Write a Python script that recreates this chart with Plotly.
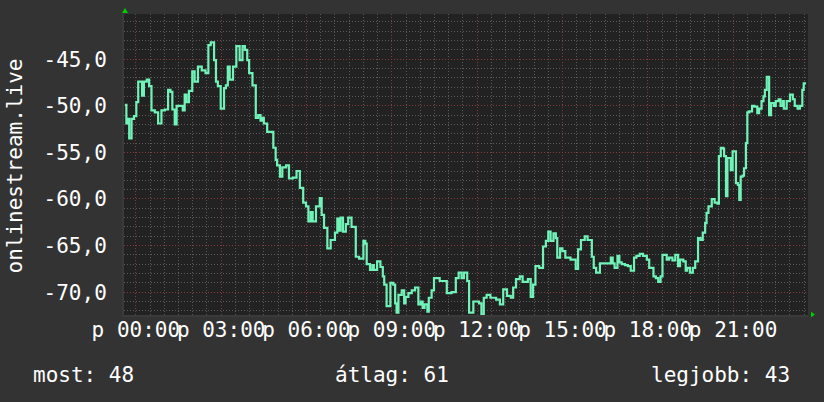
import plotly.graph_objects as go

# time of each sample, minutes relative to 00:00 (negative = previous evening)
minutes = [
    -23, -20, -18, -14, -9, -4, 1, 5, 8, 13,
    17, 23, 28, 33, 40, 47, 51, 54, 61, 68,
    73, 77, 82, 86, 93, 99, 103, 107, 112, 119,
    124, 131, 139, 147, 153, 158, 165, 169, 173, 179,
    186, 190, 194, 198, 205, 212, 219, 225, 230, 235,
    239, 246, 253, 258, 263, 267, 270, 277, 286, 290,
    295, 298, 304, 309, 317, 323, 331, 339, 346, 353,
    359, 364, 369, 373, 380, 388, 392, 397, 404, 411,
    420, 425, 429, 432, 437, 443, 448, 455, 464, 471,
    480, 484, 487, 494, 499, 502, 509, 516, 521, 524,
    529, 533, 537, 543, 547, 550, 554, 561, 566, 569,
    575, 582, 589, 596, 601, 605, 609, 615, 618, 624,
    629, 641, 656, 666, 675, 681, 687, 692, 699, 703,
    706, 712, 719, 724, 729, 734, 740, 748, 760, 768,
    775, 783, 791, 796, 802, 810, 816, 821, 827, 833,
    838, 843, 851, 859, 865, 870, 875, 881, 886, 889,
    895, 900, 906, 917, 928, 933, 939, 947, 953, 962,
    966, 971, 979, 993, 1002, 1006, 1010, 1016, 1020, 1025,
    1032, 1038, 1044, 1051, 1056, 1063, 1070, 1078, 1083, 1092,
    1097, 1102, 1107, 1111, 1116, 1120, 1125, 1132, 1138, 1144,
    1148, 1155, 1160, 1163, 1169, 1175, 1180, 1186, 1191, 1196,
    1201, 1204, 1208, 1215, 1221, 1227, 1230, 1234, 1239, 1241,
    1245, 1248, 1252, 1255, 1259, 1262, 1266, 1270, 1273, 1276,
    1280, 1283, 1287, 1290, 1294, 1300, 1305, 1311, 1315, 1320,
    1324, 1327, 1331, 1336, 1340, 1346, 1350, 1356, 1360, 1365,
    1367, 1373, 1380, 1386, 1390, 1396, 1401, 1406, 1409, 1414,
]

values = [
    -49.9, -51.9, -51.4, -53.5, -51.4, -51.1, -49.6, -47.4, -47.4, -48.9,
    -47.4, -47.2, -47.9, -50.5, -50.7, -51.9, -51.9, -50.5, -50.4, -48.3,
    -48.5, -50.4, -52.0, -50.0, -50.0, -50.5, -48.8, -49.6, -48.4, -46.3,
    -47.4, -45.8, -46.2, -46.5, -43.5, -43.2, -45.1, -47.4, -47.9, -50.3,
    -48.1, -47.8, -45.8, -47.2, -45.8, -43.6, -45.1, -43.6, -44.0, -45.1,
    -46.5, -47.8, -51.3, -51.0, -51.6, -51.3, -51.9, -52.8, -52.8, -54.5,
    -55.8, -56.4, -57.6, -56.6, -56.4, -57.8, -57.7, -57.0, -58.8, -60.4,
    -60.8, -62.4, -61.4, -62.4, -60.8, -59.9, -61.7, -63.1, -65.3, -64.4,
    -63.6, -62.1, -63.4, -62.0, -63.5, -62.7, -62.0, -63.0, -66.2, -66.4,
    -64.5, -64.8, -67.0, -67.6, -67.1, -67.6, -66.7, -67.3, -68.3, -69.2,
    -71.5, -71.5, -69.0, -69.2, -71.2, -72.2, -70.3, -69.8, -71.2, -70.5,
    -70.1, -69.8, -69.5, -71.3, -71.0, -71.7, -71.3, -72.1, -70.6, -69.8,
    -68.5, -68.8, -70.1, -70.0, -68.5, -67.9, -68.5, -67.9, -68.8, -72.2,
    -72.2, -71.0, -71.0, -71.2, -72.4, -70.6, -70.3, -70.6, -70.8, -71.3,
    -69.7, -70.4, -70.6, -69.5, -68.6, -68.3, -68.9, -68.9, -68.6, -70.5,
    -69.2, -67.2, -67.4, -65.1, -64.5, -63.5, -64.5, -63.7, -64.2, -66.3,
    -65.3, -65.6, -66.3, -66.5, -67.5, -65.4, -64.4, -64.0, -64.4, -66.2,
    -67.4, -67.9, -66.9, -66.9, -66.3, -66.9, -67.4, -66.1, -66.8, -67.0,
    -67.1, -67.2, -67.7, -66.3, -66.1, -65.9, -66.1, -66.5, -67.4, -68.3,
    -68.5, -68.9, -68.3, -66.0, -66.0, -66.5, -66.3, -66.6, -66.0, -67.2,
    -66.5, -66.7, -67.7, -67.4, -67.9, -67.4, -66.7, -64.2, -64.4, -63.6,
    -62.6, -61.5, -60.8, -60.0, -60.4, -60.5, -55.4, -54.5, -54.6, -55.4,
    -59.7, -55.6, -55.6, -56.9, -54.9, -54.9, -58.3, -58.5, -60.1, -57.6,
    -57.5, -56.7, -54.0, -50.7, -50.6, -50.0, -50.1, -50.8, -50.3, -49.5,
    -49.0, -48.3, -46.9, -51.0, -49.7, -50.0, -49.5, -49.3, -50.0, -49.5,
    -50.3, -49.5, -48.8, -49.3, -50.0, -50.3, -50.0, -48.3, -47.6, -47.6,
]

x_tick_vals = [0, 180, 360, 540, 720, 900, 1080, 1260]
x_tick_text = ["p 00:00", "p 03:00", "p 06:00", "p 09:00",
               "p 12:00", "p 15:00", "p 18:00", "p 21:00"]
y_tick_vals = [-45, -50, -55, -60, -65, -70]
y_tick_text = ["-45,0", "-50,0", "-55,0", "-60,0", "-65,0", "-70,0"]

axis_title = "onlinestream.live"
footer = ["most: 48", "átlag: 61", "legjobb: 43"]

FONT = "DejaVu Sans Mono"
FS = 21
BG = "#333333"
PLOT_BG = "#222222"
MINOR = "#5a5a5a"
MAJOR = "#853b3b"
LINE = "#70f2b8"
ARROW = "#00d000"

fig = go.Figure()
fig.add_trace(go.Scatter(
    x=minutes, y=values, mode="lines",
    line=dict(color=LINE, width=2.2, shape="hv"),
    hoverinfo="skip", showlegend=False,
))

fig.update_layout(
    width=824, height=402,
    margin=dict(l=124, r=16, t=14, b=87),
    paper_bgcolor=BG, plot_bgcolor=PLOT_BG,
    font=dict(family=FONT, size=FS, color="#ffffff"),
    showlegend=False,
)

fig.update_xaxes(
    range=[-25, 1418], automargin=False,
    tickmode="array", tickvals=x_tick_vals, ticktext=x_tick_text,
    tickangle=0,
    showgrid=True, gridcolor=MAJOR, griddash="1px,2px", gridwidth=1,
    minor=dict(tickmode="linear", tick0=0, dtick=30, showgrid=True,
               gridcolor=MINOR, griddash="1px,2px", gridwidth=1),
    zeroline=False, showline=True, linecolor="#3a3a3a", linewidth=2,
    ticks="", ticklabelstandoff=-5,
    tickfont=dict(family=FONT, size=FS, color="#ffffff"),
)

fig.update_yaxes(
    range=[-72.45, -40.15], automargin=False,
    tickmode="array", tickvals=y_tick_vals, ticktext=y_tick_text,
    showgrid=True, gridcolor=MAJOR, griddash="1px,2px", gridwidth=1,
    minor=dict(tickmode="linear", tick0=0, dtick=1, showgrid=True,
               gridcolor=MINOR, griddash="1px,2px", gridwidth=1),
    zeroline=False, showline=True, linecolor="#3a3a3a", linewidth=2,
    ticks="", ticklabelstandoff=11,
    tickfont=dict(family=FONT, size=FS, color="#ffffff"),
)

# y-axis title (rotated)
fig.add_annotation(
    text=axis_title, xref="paper", yref="paper", x=0, y=0.5,
    xanchor="center", yanchor="middle", xshift=-110, yshift=-2,
    textangle=-90, showarrow=False,
    font=dict(family=FONT, size=FS, color="#ffffff"),
)

# footer legend texts
fig.add_annotation(text=footer[0], xref="paper", yref="paper",
                   x=(31 - 124) / 684, y=-0.199, xanchor="left", yanchor="middle",
                   showarrow=False, font=dict(family=FONT, size=FS, color="#ffffff"))
fig.add_annotation(text=footer[1], xref="paper", yref="paper",
                   x=(333 - 124) / 684, y=-0.199, xanchor="left", yanchor="middle",
                   showarrow=False, font=dict(family=FONT, size=FS, color="#ffffff"))
fig.add_annotation(text=footer[2], xref="paper", yref="paper",
                   x=(792 - 124) / 684, y=-0.199, xanchor="right", yanchor="middle",
                   showarrow=False, font=dict(family=FONT, size=FS, color="#ffffff"))

# green axis arrows
fig.add_shape(type="path", xref="paper", yref="paper",
              path="M 0.00146 1.0199 L -0.00292 1.0033 L 0.00585 1.0033 Z",
              fillcolor=ARROW, line=dict(width=0), layer="above")
fig.add_shape(type="path", xref="paper", yref="paper",
              path="M 1.01023 0.00166 L 1.00439 0.01063 L 1.00439 -0.00731 Z",
              fillcolor=ARROW, line=dict(width=0), layer="above")

fig.write_html(
    "out.html",
    config={"displayModeBar": False, "staticPlot": True},
    post_script="document.body.style.margin='0';"
                "document.body.style.background='#333333';",
)
